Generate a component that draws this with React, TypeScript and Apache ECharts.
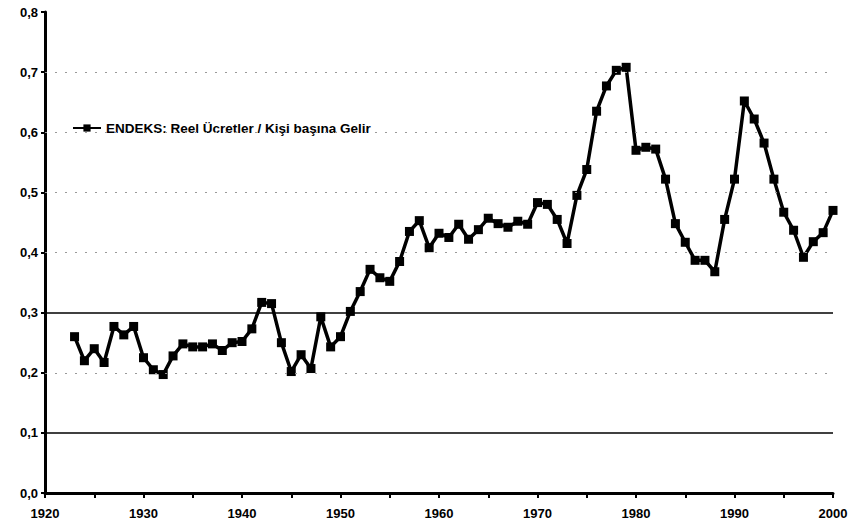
import React, { useEffect, useRef } from "react";
import * as echarts from "echarts";

const years = [
  1923, 1924, 1925, 1926, 1927, 1928, 1929, 1930, 1931, 1932, 1933, 1934, 1935, 1936, 1937, 1938, 1939,
  1940, 1941, 1942, 1943, 1944, 1945, 1946, 1947, 1948, 1949, 1950, 1951, 1952, 1953, 1954, 1955, 1956,
  1957, 1958, 1959, 1960, 1961, 1962, 1963, 1964, 1965, 1966, 1967, 1968, 1969, 1970, 1971, 1972, 1973,
  1974, 1975, 1976, 1977, 1978, 1979, 1980, 1981, 1982, 1983, 1984, 1985, 1986, 1987, 1988, 1989, 1990,
  1991, 1992, 1993, 1994, 1995, 1996, 1997, 1998, 1999, 2000,
];

const endeks = [
  0.26, 0.22, 0.24, 0.217, 0.277, 0.263, 0.277, 0.225, 0.205, 0.197, 0.228, 0.248, 0.243, 0.243, 0.248,
  0.237, 0.25, 0.252, 0.273, 0.317, 0.315, 0.25, 0.202, 0.23, 0.207, 0.293, 0.243, 0.26, 0.302, 0.335,
  0.372, 0.358, 0.352, 0.385, 0.435, 0.453, 0.408, 0.432, 0.425, 0.447, 0.422, 0.438, 0.457, 0.448,
  0.442, 0.452, 0.447, 0.483, 0.48, 0.455, 0.415, 0.495, 0.538, 0.635, 0.677, 0.703, 0.708, 0.57, 0.575,
  0.572, 0.522, 0.448, 0.417, 0.387, 0.387, 0.368, 0.455, 0.522, 0.652, 0.622, 0.582, 0.522, 0.467,
  0.437, 0.392, 0.418, 0.433, 0.47,
];

const solidLevels = [0.1, 0.3];
const dottedLevels = [0.2, 0.4, 0.5, 0.6, 0.7];
const seriesName = "ENDEKS: Reel Ücretler / Kişi başına Gelir";

export default function App() {
  const ref = useRef<HTMLDivElement>(null);
  useEffect(() => {
    if (!ref.current) return;
    const chart = echarts.init(ref.current, null, { renderer: "svg" });
    const font = "'Liberation Sans', Arial, sans-serif";
    chart.setOption({
      animation: false,
      backgroundColor: "#fff",
      grid: { left: 45, right: 21, top: 12, bottom: 32 },
      legend: {
        show: true,
        left: 67,
        top: 116,
        itemWidth: 28,
        itemHeight: 9,
        textStyle: { fontFamily: font, fontWeight: "bold", fontSize: 13.5, color: "#000" },
        data: [seriesName],
      },
      xAxis: {
        type: "value",
        min: 1920,
        max: 2000,
        interval: 5,
        axisLine: { show: true, lineStyle: { color: "#000", width: 3 } },
        axisTick: { show: true, length: 5, lineStyle: { color: "#000", width: 2 } },
        splitLine: { show: false },
        axisLabel: {
          margin: 14,
          fontFamily: font,
          fontWeight: "bold",
          fontSize: 13,
          color: "#000",
          formatter: (v: number) => (v % 10 === 0 ? String(v) : ""),
        },
      },
      yAxis: {
        type: "value",
        min: 0,
        max: 0.8,
        interval: 0.1,
        axisLine: { show: true, lineStyle: { color: "#000", width: 3 } },
        axisTick: { show: true, length: 4, lineStyle: { color: "#000", width: 2 } },
        splitLine: { show: false },
        axisLabel: {
          margin: 7,
          fontFamily: font,
          fontWeight: "bold",
          fontSize: 13,
          color: "#000",
          formatter: (v: number) => v.toFixed(1).replace(".", ","),
        },
      },
      series: [
        {
          name: seriesName,
          type: "line",
          data: years.map((y, i) => [y, endeks[i]]),
          symbol: "rect",
          symbolSize: 9,
          showSymbol: true,
          itemStyle: { color: "#000" },
          lineStyle: { color: "#000", width: 3.5 },
          markLine: {
            silent: true,
            symbol: ["none", "none"],
            label: { show: false },
            data: [
              ...solidLevels.map((v) => ({
                yAxis: v,
                lineStyle: { color: "#000", width: 1.5, type: "solid" },
              })),
              ...dottedLevels.map((v) => ({
                yAxis: v,
                lineStyle: { color: "#999", width: 1, type: [2, 8] },
              })),
            ],
          },
        },
      ],
    });
    return () => chart.dispose();
  }, []);
  return (
    <div
      ref={ref}
      style={{ position: "fixed", left: 0, top: 0, width: 854, height: 525, background: "#fff" }}
    />
  );
}
